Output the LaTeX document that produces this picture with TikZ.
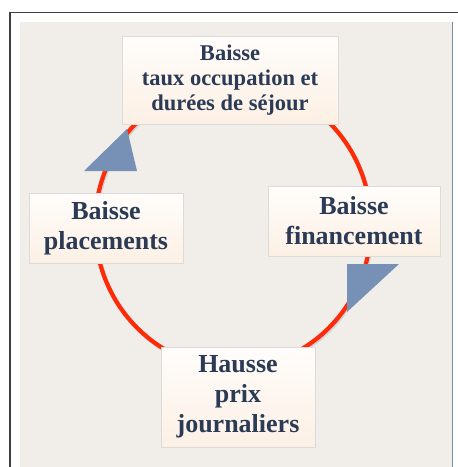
\documentclass[tikz,border=0pt]{standalone}
\usepackage{fontspec}
\setmainfont{Liberation Serif}
\usetikzlibrary{shadows}
\definecolor{paper}{HTML}{F1EEE9}
\definecolor{ringred}{HTML}{FF2A08}
\definecolor{wedgeblue}{HTML}{7791B6}
\definecolor{inkblue}{HTML}{2B3A55}
\definecolor{boxtop}{HTML}{FFFDFB}
\definecolor{boxbottom}{HTML}{FCF0E4}
\tikzset{x=1pt, y=-1pt, % one unit is one pixel of the picture, y going down
every node/.style={font=\bfseries, text=inkblue, align=center}, % text of all boxes
box/.style={draw=black!14, top color=boxtop, bottom color=boxbottom, inner sep=0pt,
  drop shadow={shadow xshift=0.8pt, shadow yshift=-1.2pt, opacity=0.25}}, % the cream boxes
ring/.style={draw=ringred, line width=4.2pt}, % the red cycle
wedge/.style={fill=wedgeblue}, % the blue arrow heads
}

\begin{document}
\begin{tikzpicture}
    \useasboundingbox (0,0) rectangle (458,467);
    \fill[white] (0,0) rectangle (458,467);
    \fill[paper] (20,22) rectangle (452,467);
    \draw[black!75, line width=1.4pt] (10,467) -- (10,12.5) -- (458,12.5);
    \draw[wedgeblue!70!gray, line width=1pt] (452,22) -- (452,467);

    \draw[black!18, line width=4.2pt] (234,226.5) ellipse [x radius=138, y radius=143];
    \draw[ring] (233,225) ellipse [x radius=138, y radius=143];

    \fill[wedge] (84,171) -- (137,171) -- (127,129) -- cycle;
    \fill[wedge] (347,264) -- (399,264) -- (347,312) -- cycle;

    \node[box, minimum width=216, minimum height=88, font=\fontsize{22.5}{25}\bfseries] (taux) at (230,80)
        {Baisse\\taux occupation et\\durées de séjour};
    \node[box, minimum width=154, minimum height=70, font=\fontsize{26}{30}\bfseries] (placements) at (106,228)
        {Baisse\\placements};
    \node[box, minimum width=172, minimum height=70, font=\fontsize{26}{30}\bfseries] (financement) at (354,221)
        {Baisse\\financement};
    \node[box, minimum width=154, minimum height=100, font=\fontsize{26}{30}\bfseries] (prix) at (238,397)
        {Hausse\\prix\\journaliers};
\end{tikzpicture}
\end{document}
